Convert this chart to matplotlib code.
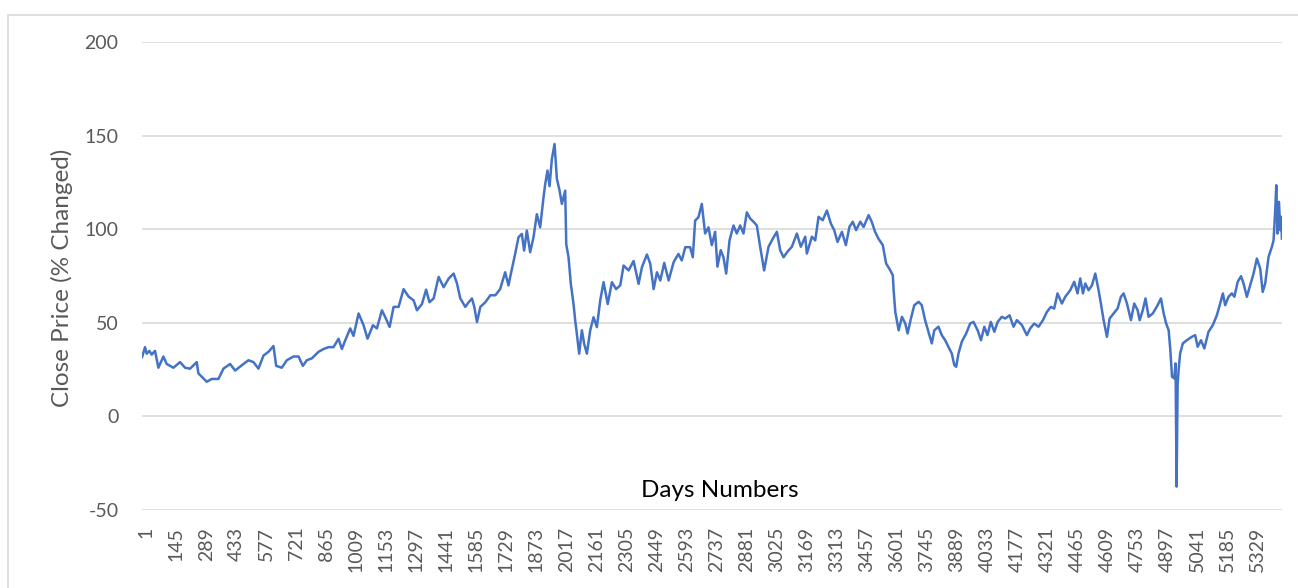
import matplotlib
matplotlib.use("Agg")
import matplotlib.pyplot as plt
import matplotlib.transforms as mtransforms
from matplotlib.patches import Rectangle

# ---- data ----
n_days = 5467
days = [
    1, 15, 23, 36, 47, 63, 79, 103, 119, 151, 183, 207, 231, 263, 271, 311, 335, 367, 391, 423,
    447, 487, 511, 535, 559, 583, 607, 631, 644, 671, 695, 727, 751, 772, 791, 815, 847, 871, 895,
    919, 943, 959, 975, 999, 1015, 1039, 1063, 1082, 1108, 1127, 1151, 1167, 1188, 1207, 1231,
    1255, 1279, 1303, 1319, 1343, 1363, 1379, 1399, 1423, 1447, 1471, 1495, 1511, 1527, 1551,
    1567, 1583, 1594, 1607, 1623, 1647, 1671, 1695, 1718, 1742, 1758,
    1766, 1790, 1806, 1822, 1833, 1846, 1862, 1878, 1894, 1910, 1926, 1934, 1945, 1955, 1966,
    1979, 1990, 2003, 2014, 2030, 2035, 2046, 2057, 2070, 2078, 2086, 2097, 2110, 2121, 2134,
    2150, 2166, 2182, 2198, 2214, 2234, 2254, 2274, 2294, 2310, 2334, 2358, 2382, 2398, 2422,
    2438, 2454, 2470, 2486, 2505, 2526, 2550, 2573, 2589, 2606, 2629, 2642, 2653, 2669, 2685,
    2701, 2717, 2733, 2749, 2760, 2776, 2789, 2802, 2818, 2837, 2853, 2869, 2885, 2901, 2917,
    2933, 2949, 2965, 2984, 3005, 3026, 3045, 3061, 3077, 3096, 3117, 3141, 3160, 3181, 3189,
    3213, 3229, 3245, 3265, 3285, 3304, 3320, 3336, 3357, 3376, 3393, 3409, 3425, 3445, 3461,
    3485, 3500, 3516, 3532, 3553, 3569,
    3589, 3601, 3605, 3613, 3629, 3645, 3661, 3672, 3688, 3704, 3725, 3740, 3756, 3772, 3788,
    3800, 3820, 3836, 3852, 3868, 3884, 3896, 3905, 3916, 3932, 3953, 3972, 3988, 4008, 4024,
    4040, 4055, 4071, 4088, 4104, 4124, 4140, 4161, 4180, 4196, 4220, 4244, 4260, 4279, 4300,
    4321, 4340, 4359, 4375, 4391, 4412, 4428, 4452, 4471, 4487,
    4500, 4513, 4524, 4540, 4556, 4572, 4588, 4599, 4612, 4628, 4641, 4660, 4679, 4695, 4708,
    4724, 4743, 4759, 4775, 4785, 4800, 4813, 4828, 4848, 4871, 4887, 4900, 4912, 4924, 4932,
    4940, 4951, 4957, 4962, 4967, 4973, 4979, 4992, 5011, 5035, 5051, 5063, 5079, 5095, 5115,
    5136, 5155, 5171, 5184, 5195, 5211, 5227, 5239, 5255, 5271, 5283, 5299, 5315, 5331, 5347,
    5363, 5375, 5387, 5403, 5419, 5427, 5435, 5440, 5446, 5453, 5459, 5464, 5467,
]
close_pct = [
    31.7, 37, 33.5, 35, 33, 35, 26, 32, 28, 26, 29, 26, 25.5, 29, 23, 18.5, 20, 20, 25.5, 28,
    24.5, 28, 30, 29, 25.5, 32.5, 34.5, 37.6, 27, 26, 30, 32, 32, 27, 30, 31, 34.5, 36, 37,
    37, 41.5, 36, 40.6, 47, 43, 55, 48.7, 41.5, 48.7, 47, 56.7, 53, 47.8, 58.5, 58.5,
    68, 64, 62, 56.7, 60, 67.7, 61, 63, 74.5, 69, 73.6, 76.3, 71, 63, 58.5,
    61, 63, 58.5, 50.4, 58.5, 61, 64.7, 64.7, 68, 77, 70,
    74.4, 86.8, 95.7, 97.5, 88.6, 99.3, 87.7, 95.7, 108, 101, 117, 124, 131.3, 123, 137.5,
    145.5, 127, 120.6, 113.5, 120.6, 92, 85, 70.8, 60, 51.2, 44, 33.5, 46, 38.8, 33.5,
    46, 53, 47.7, 62, 71.7, 60, 71.7, 68, 70, 80.6, 78, 83, 70.8, 79.7, 86.5,
    81.5, 68, 77, 72.6, 82, 72.6, 82.4, 86.8, 83.3, 90.4, 90.4, 85, 104.6, 106.4, 113.5,
    97.7, 101, 91.5, 98.6, 80, 88.8, 85, 76.3, 94, 102, 97.7, 102, 97.7, 109, 105.7,
    104, 102, 90.6, 78, 90.6, 95, 98.6, 88.8, 85, 88, 90.6, 97.7, 90.6, 96, 87,
    96, 94, 106.6, 104.8, 110, 103, 99.5, 93.2, 98.6, 91.5, 101.2, 104, 99.5, 104, 101.2,
    107.5, 104, 98.6, 95, 91.5, 81.7,
    78, 75.4, 67.4, 55.8, 46, 53.2, 49.6, 44.3, 52.3, 59.4, 61.2, 59.4, 51.4, 45.2, 39,
    46, 47.9, 43.4, 40.7, 37.2, 33.6, 27.4, 26.5, 33.6, 39.9, 44.3, 49.6, 50.5, 46, 40.7,
    47.9, 43.4, 50.5, 45.2, 50.5, 53.2, 52.3, 54, 47.9, 51.4, 48.8, 43.4, 47, 49.6, 47.9,
    51.4, 55.8, 58.5, 57.6, 65.7, 60.3, 63.9, 67.4, 71.9, 65.7,
    73.7, 65.7, 71, 67.4, 70, 76.3, 67.4, 60.3, 51.4, 42.5, 52.3, 55, 57.6, 63.9, 65.7,
    60.3, 51.4, 60.3, 56.8, 51.4, 56.8, 63, 53.2, 55, 59.4, 63, 55, 49.6, 46, 35.4,
    21.2, 20.3, 28.3, -37.5, 17.6, 26.5, 33.6, 39, 40.7, 42.5, 43.4, 37.2, 40.7, 36.3, 45.2,
    48.8, 54, 60.3, 65.7, 59.4, 63.9, 65.7, 63.9, 71.9, 74.9, 71, 63.9, 70, 76.3, 84.3,
    79, 66.5, 71, 85.2, 90.6, 94, 110, 123.5, 97.7, 114.6, 99.5, 106.6, 95,
]
tick_days = list(range(1, n_days + 1, 144))
tick_labels = [str(d) for d in tick_days]
y_ticks = [-50, 0, 50, 100, 150, 200]

x_title = "Days Numbers"
y_title = "Close Price (% Changed)"

# ---- figure ----
W, H = 1298, 588
fig = plt.figure(figsize=(W / 100, H / 100), dpi=100)
plt.rcParams['font.family'] = ['Lato', 'DejaVu Sans']

ax = fig.add_axes([142 / W, 1 - 510 / H, 1140 / W, 468 / H])
ax.plot(days, close_pct, color="#4472C4", lw=1.8, solid_joinstyle="round")

ax.set_xlim(0.5, n_days + 0.5)
ax.set_ylim(-50, 200)
ax.set_yticks(y_ticks)
ax.set_yticklabels([str(v) for v in y_ticks])
ax.set_xticks(tick_days)
ax.set_xticklabels(tick_labels, rotation=90, va="top", ha="center")

for s in ax.spines.values():
    s.set_visible(False)
ax.grid(axis="y", color="#d9d9d9", lw=1.2)
ax.set_axisbelow(True)
ax.tick_params(axis="both", length=0, labelcolor="#595959", labelsize=14)
ax.tick_params(axis="y", pad=17)
ax.tick_params(axis="x", pad=12)

offset = mtransforms.ScaledTranslation(4 / 100, 0, fig.dpi_scale_trans)
for lab in ax.get_xticklabels():
    lab.set_transform(lab.get_transform() + offset)

ax.text(0.5066, 0.0427, x_title, transform=ax.transAxes, ha="center", va="center",
        fontsize=17.5, color="#000000")
fig.text(61.7 / W, 1 - 277.5 / H, y_title, rotation=90, ha="center", va="center",
         fontsize=17.5, color="#595959")

# chart area border
fig.patches.append(Rectangle((8 / W, -0.05), 1.1, 1.05 - 14.7 / H, transform=fig.transFigure,
                             fill=False, edgecolor="#d9d9d9", lw=1.2, figure=fig))

fig.savefig("out.png", dpi=100)
